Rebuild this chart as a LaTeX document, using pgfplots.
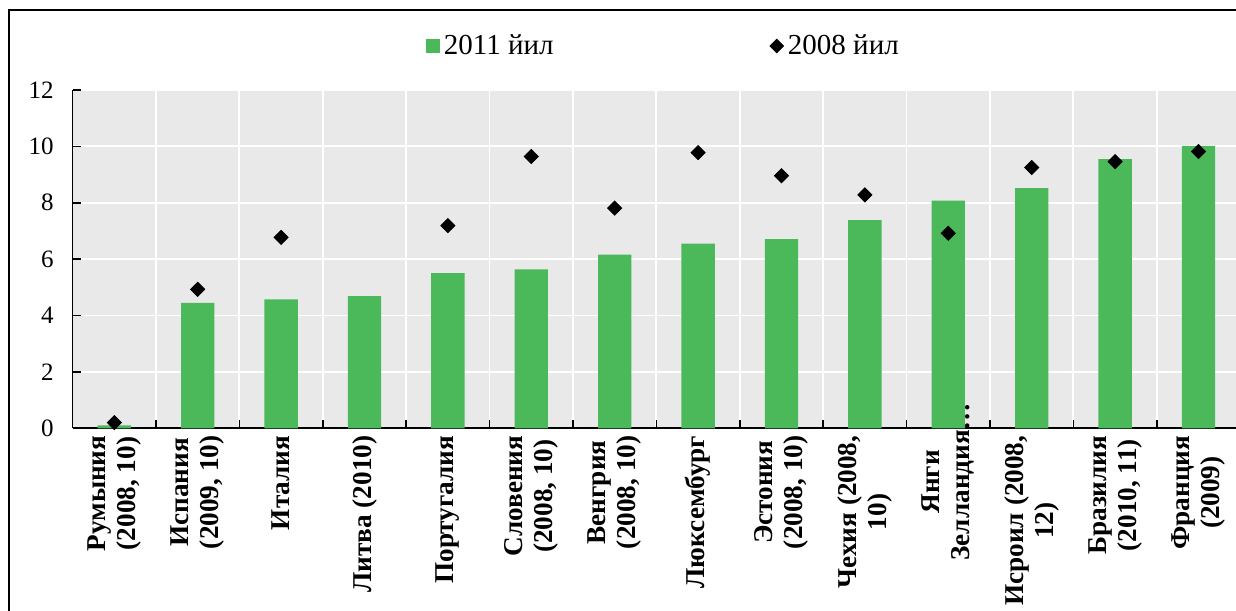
\documentclass[border=0pt]{standalone}
\usepackage{pgfplots}
\pgfplotsset{compat=1.18}
\usepackage{fontspec}
\setmainfont{Liberation Serif}
\definecolor{barg}{RGB}{75,184,90}
\definecolor{bgg}{RGB}{233,233,233}
\begin{document}
\begin{tikzpicture}
\useasboundingbox (0,0) rectangle (618pt,305pt);
\draw[line width=0.8pt] (4.5pt,-2pt) -- (4.5pt,300pt) -- (620pt,300pt);
\begin{axis}[
  at={(36.3pt,90.85pt)}, anchor=south west,
  scale only axis, width=581.7pt, height=169.15pt,
  xmin=-0.5, xmax=13.45, ymin=0, ymax=12,
  axis background/.style={fill=bgg},
  axis x line*=bottom, axis y line*=left,
  axis line style={-, black, line width=0.8pt},
  tick align=inside,
  major tick length=4pt,
  tick style={black, line width=0.8pt},
  ytick={0,2,...,12},
  ymajorgrids, xmajorgrids,
  major grid style={white, line width=0.9pt},
  xtick={0.5,1.5,...,12.5},
  xticklabels={},
  extra x ticks={0,1,...,13},
  extra x tick labels={{Румыния\\(2008, 10)},{Испания\\(2009, 10)},{Италия},{Литва (2010)},{Португалия},{Словения\\(2008, 10)},{Венгрия\\(2008, 10)},{Люксембург},{Эстония\\(2008, 10)},{Чехия (2008,\\10)},{\hbox to 46pt{\hss Янги\hss}\\\hbox to 46pt{\hss Зелландия…\hss}},{Исроил (2008,\\12)},{Бразилия\\(2010, 11)},{Франция\\(2009)}},
  extra x tick style={major tick length=0pt, grid=none,
    tick label style={rotate=90, anchor=east, align=center,
      font=\fontsize{13.6}{15}\selectfont\bfseries, inner sep=3.5pt}},
  /pgf/number format/assume math mode=true,
  yticklabel style={font=\fontsize{12.5}{14}\selectfont, xshift=-6pt},
  legend columns=2,
  legend style={draw=none, fill=none, inner sep=0pt,
    at={(axis description cs:0.303,1.13)}, anchor=west,
    font=\fontsize{14.5}{16}\selectfont,
    /tikz/every even column/.append style={column sep=106pt}},
]
\addplot[ybar, bar width=0.4, fill=barg, draw=none,
  legend image code/.code={\fill[barg] (0pt,-3.6pt) rectangle (7.2pt,3.6pt);}]
  coordinates {(0,0.1) (1,4.45) (2,4.57) (3,4.69) (4,5.50) (5,5.64) (6,6.16)
               (7,6.55) (8,6.71) (9,7.38) (10,8.08) (11,8.52) (12,9.55) (13,10.02)};
\addlegendentry{2011 йил}
\addplot[only marks, mark=square*, mark size=2.5pt,
  mark options={rotate=45, fill=black, draw=black},
  legend image code/.code={\fill[black] (3.4pt,-3.4pt) -- (6.8pt,0pt) -- (3.4pt,3.4pt) -- (0pt,0pt) -- cycle;}]
  coordinates {(0,0.2) (1,4.93) (2,6.77) (4,7.19) (5,9.64) (6,7.81)
               (7,9.78) (8,8.96) (9,8.28) (10,6.92) (11,9.25) (12,9.46) (13,9.82)};
\addlegendentry{2008 йил}
\end{axis}
\end{tikzpicture}
\end{document}
